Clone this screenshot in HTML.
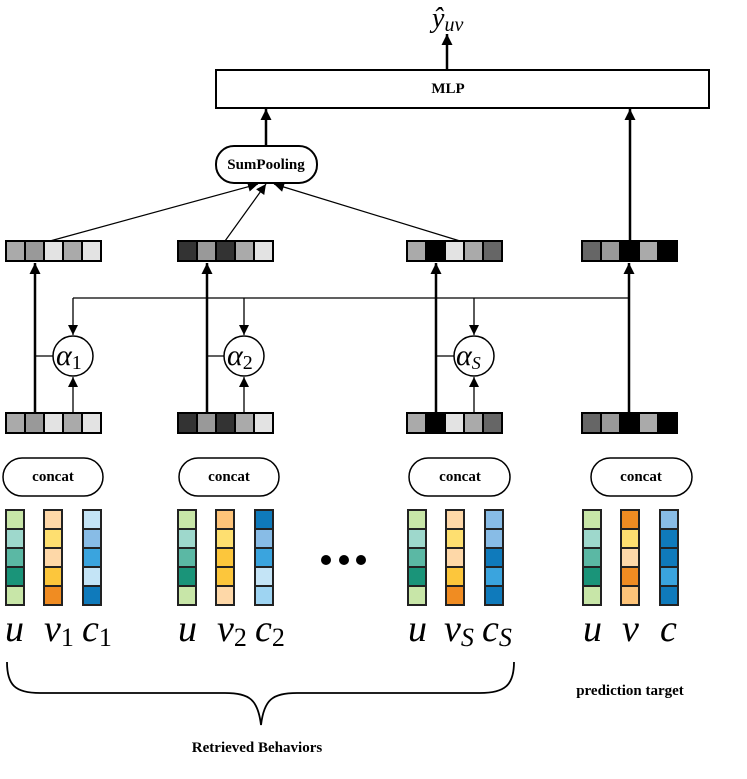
<!DOCTYPE html>
<html><head><meta charset="utf-8"><style>
body{margin:0;background:#fff}
svg{display:block}
.b{font-family:"Liberation Serif",serif;font-weight:bold}
.i{font-family:"Liberation Serif",serif;font-style:italic}
</style></head><body>
<svg width="747" height="779" viewBox="0 0 747 779" xmlns="http://www.w3.org/2000/svg">
<defs>
<marker id="a" viewBox="0 0 10 10" refX="10" refY="5" markerWidth="12" markerHeight="10" markerUnits="userSpaceOnUse" orient="auto"><path d="M0,0L10,5L0,10z" fill="#000"/></marker>
<marker id="as" viewBox="0 0 10 10" refX="10" refY="5" markerWidth="14" markerHeight="11" markerUnits="userSpaceOnUse" orient="auto"><path d="M0,0L10,5L0,10z" fill="#000"/></marker>
</defs>
<g stroke="#000" fill="none">
<line x1="447" y1="70" x2="447" y2="34" stroke-width="2.5" marker-end="url(#as)"/>
<rect x="216" y="70" width="493" height="38" stroke-width="2" fill="#fff"/>
<line x1="266" y1="146" x2="266" y2="109" stroke-width="2.5" marker-end="url(#as)"/>
<rect x="216" y="146" width="101" height="37" rx="18" stroke-width="2" fill="#fff"/>
<line x1="630" y1="241" x2="630" y2="109" stroke-width="2.5" marker-end="url(#as)"/>
<line x1="50" y1="241" x2="258" y2="184" stroke-width="1.2" marker-end="url(#a)"/>
<line x1="225" y1="241" x2="266" y2="184" stroke-width="1.2" marker-end="url(#a)"/>
<line x1="460" y1="241" x2="274" y2="184" stroke-width="1.2" marker-end="url(#a)"/>
<path d="M73,298H630" stroke-width="1.3"/>
<line x1="73" y1="298" x2="73" y2="335" stroke-width="1.3" marker-end="url(#a)"/>
<line x1="244" y1="298" x2="244" y2="335" stroke-width="1.3" marker-end="url(#a)"/>
<line x1="474" y1="298" x2="474" y2="335" stroke-width="1.3" marker-end="url(#a)"/>
<line x1="35" y1="413" x2="35" y2="263" stroke-width="2.5" marker-end="url(#as)"/>
<line x1="207" y1="413" x2="207" y2="263" stroke-width="2.5" marker-end="url(#as)"/>
<line x1="436" y1="413" x2="436" y2="263" stroke-width="2.5" marker-end="url(#as)"/>
<line x1="629" y1="413" x2="629" y2="263" stroke-width="2.5" marker-end="url(#as)"/>
<line x1="73" y1="413" x2="73" y2="377" stroke-width="1.3" marker-end="url(#a)"/>
<line x1="244" y1="413" x2="244" y2="377" stroke-width="1.3" marker-end="url(#a)"/>
<line x1="474" y1="413" x2="474" y2="377" stroke-width="1.3" marker-end="url(#a)"/>
<line x1="35" y1="356" x2="53" y2="356" stroke-width="1.3"/>
<line x1="207" y1="356" x2="224" y2="356" stroke-width="1.3"/>
<line x1="436" y1="356" x2="454" y2="356" stroke-width="1.3"/>
<circle cx="73" cy="356" r="20" stroke-width="1.5" fill="#fff"/>
<circle cx="244" cy="356" r="20" stroke-width="1.5" fill="#fff"/>
<circle cx="474" cy="356" r="20" stroke-width="1.5" fill="#fff"/>
<rect x="3" y="458" width="100" height="38" rx="19" stroke-width="1.5" fill="#fff"/>
<rect x="179" y="458" width="100" height="38" rx="19" stroke-width="1.5" fill="#fff"/>
<rect x="409" y="458" width="101" height="38" rx="19" stroke-width="1.5" fill="#fff"/>
<rect x="591" y="458" width="101" height="38" rx="19" stroke-width="1.5" fill="#fff"/>
<path d="M7,662 C7,685 15,693 40,693 H225 C250,693 258,700 261,725 C264,700 272,693 297,693 H480 C505,693 514,685 514,662" stroke-width="1.8"/>
</g>
<g stroke="#000" stroke-width="2">
<g transform="translate(6,241)">
<rect x="0" width="19" height="20" fill="#aaa"/><rect x="19" width="19" height="20" fill="#999"/><rect x="38" width="19" height="20" fill="#e3e3e3"/><rect x="57" width="19" height="20" fill="#aaa"/><rect x="76" width="19" height="20" fill="#e3e3e3"/></g>
<g transform="translate(178,241)">
<rect x="0" width="19" height="20" fill="#333"/><rect x="19" width="19" height="20" fill="#999"/><rect x="38" width="19" height="20" fill="#333"/><rect x="57" width="19" height="20" fill="#aaa"/><rect x="76" width="19" height="20" fill="#e3e3e3"/></g>
<g transform="translate(407,241)">
<rect x="0" width="19" height="20" fill="#aaa"/><rect x="19" width="19" height="20" fill="#000"/><rect x="38" width="19" height="20" fill="#e3e3e3"/><rect x="57" width="19" height="20" fill="#aaa"/><rect x="76" width="19" height="20" fill="#666"/></g>
<g transform="translate(582,241)">
<rect x="0" width="19" height="20" fill="#666"/><rect x="19" width="19" height="20" fill="#999"/><rect x="38" width="19" height="20" fill="#000"/><rect x="57" width="19" height="20" fill="#aaa"/><rect x="76" width="19" height="20" fill="#000"/></g>
<g transform="translate(6,413)">
<rect x="0" width="19" height="20" fill="#aaa"/><rect x="19" width="19" height="20" fill="#999"/><rect x="38" width="19" height="20" fill="#e3e3e3"/><rect x="57" width="19" height="20" fill="#aaa"/><rect x="76" width="19" height="20" fill="#e3e3e3"/></g>
<g transform="translate(178,413)">
<rect x="0" width="19" height="20" fill="#333"/><rect x="19" width="19" height="20" fill="#999"/><rect x="38" width="19" height="20" fill="#333"/><rect x="57" width="19" height="20" fill="#aaa"/><rect x="76" width="19" height="20" fill="#e3e3e3"/></g>
<g transform="translate(407,413)">
<rect x="0" width="19" height="20" fill="#aaa"/><rect x="19" width="19" height="20" fill="#000"/><rect x="38" width="19" height="20" fill="#e3e3e3"/><rect x="57" width="19" height="20" fill="#aaa"/><rect x="76" width="19" height="20" fill="#666"/></g>
<g transform="translate(582,413)">
<rect x="0" width="19" height="20" fill="#666"/><rect x="19" width="19" height="20" fill="#999"/><rect x="38" width="19" height="20" fill="#000"/><rect x="57" width="19" height="20" fill="#aaa"/><rect x="76" width="19" height="20" fill="#000"/></g>
</g>
<g stroke="#222" stroke-width="2">
<g transform="translate(6,510)"><rect y="0" width="18" height="19" fill="#c8e6a8"/><rect y="19" width="18" height="19" fill="#9ed8cc"/><rect y="38" width="18" height="19" fill="#5bb8a4"/><rect y="57" width="18" height="19" fill="#1a9479"/><rect y="76" width="18" height="19" fill="#c8e6a8"/></g>
<g transform="translate(44,510)"><rect y="0" width="18" height="19" fill="#fed8a8"/><rect y="19" width="18" height="19" fill="#fedf70"/><rect y="38" width="18" height="19" fill="#fed8a8"/><rect y="57" width="18" height="19" fill="#fcc63c"/><rect y="76" width="18" height="19" fill="#f08c22"/></g>
<g transform="translate(83,510)"><rect y="0" width="18" height="19" fill="#c4e4f6"/><rect y="19" width="18" height="19" fill="#88bce6"/><rect y="38" width="18" height="19" fill="#3aa4de"/><rect y="57" width="18" height="19" fill="#c4e4f6"/><rect y="76" width="18" height="19" fill="#0f7abb"/></g>
<g transform="translate(178,510)"><rect y="0" width="18" height="19" fill="#c8e6a8"/><rect y="19" width="18" height="19" fill="#9ed8cc"/><rect y="38" width="18" height="19" fill="#5bb8a4"/><rect y="57" width="18" height="19" fill="#1a9479"/><rect y="76" width="18" height="19" fill="#c8e6a8"/></g>
<g transform="translate(216,510)"><rect y="0" width="18" height="19" fill="#fec479"/><rect y="19" width="18" height="19" fill="#fedf70"/><rect y="38" width="18" height="19" fill="#fcc63c"/><rect y="57" width="18" height="19" fill="#fcc63c"/><rect y="76" width="18" height="19" fill="#fed8a8"/></g>
<g transform="translate(255,510)"><rect y="0" width="18" height="19" fill="#0f7abb"/><rect y="19" width="18" height="19" fill="#88bce6"/><rect y="38" width="18" height="19" fill="#3aa4de"/><rect y="57" width="18" height="19" fill="#c4e4f6"/><rect y="76" width="18" height="19" fill="#9ed4f2"/></g>
<g transform="translate(408,510)"><rect y="0" width="18" height="19" fill="#c8e6a8"/><rect y="19" width="18" height="19" fill="#9ed8cc"/><rect y="38" width="18" height="19" fill="#5bb8a4"/><rect y="57" width="18" height="19" fill="#1a9479"/><rect y="76" width="18" height="19" fill="#c8e6a8"/></g>
<g transform="translate(446,510)"><rect y="0" width="18" height="19" fill="#fed8a8"/><rect y="19" width="18" height="19" fill="#fedf70"/><rect y="38" width="18" height="19" fill="#fed8a8"/><rect y="57" width="18" height="19" fill="#fcc63c"/><rect y="76" width="18" height="19" fill="#f08c22"/></g>
<g transform="translate(485,510)"><rect y="0" width="18" height="19" fill="#88bce6"/><rect y="19" width="18" height="19" fill="#88bce6"/><rect y="38" width="18" height="19" fill="#0f7abb"/><rect y="57" width="18" height="19" fill="#3aa4de"/><rect y="76" width="18" height="19" fill="#0f7abb"/></g>
<g transform="translate(583,510)"><rect y="0" width="18" height="19" fill="#c8e6a8"/><rect y="19" width="18" height="19" fill="#9ed8cc"/><rect y="38" width="18" height="19" fill="#5bb8a4"/><rect y="57" width="18" height="19" fill="#1a9479"/><rect y="76" width="18" height="19" fill="#c8e6a8"/></g>
<g transform="translate(621,510)"><rect y="0" width="18" height="19" fill="#f08c22"/><rect y="19" width="18" height="19" fill="#fedf70"/><rect y="38" width="18" height="19" fill="#fed8a8"/><rect y="57" width="18" height="19" fill="#f08c22"/><rect y="76" width="18" height="19" fill="#fec479"/></g>
<g transform="translate(660,510)"><rect y="0" width="18" height="19" fill="#88bce6"/><rect y="19" width="18" height="19" fill="#0f7abb"/><rect y="38" width="18" height="19" fill="#0f7abb"/><rect y="57" width="18" height="19" fill="#3aa4de"/><rect y="76" width="18" height="19" fill="#0f7abb"/></g>
</g>
<circle cx="326" cy="560" r="5"/><circle cx="344" cy="560" r="5"/><circle cx="361" cy="560" r="5"/>
<g class="b" font-size="15" text-anchor="middle">
<text x="448" y="93">MLP</text>
<text x="266" y="169">SumPooling</text>
<text x="53" y="481">concat</text>
<text x="229" y="481">concat</text>
<text x="460" y="481">concat</text>
<text x="641" y="481">concat</text>
<text x="257" y="752">Retrieved Behaviors</text>
<text x="630" y="695">prediction target</text>
</g>
<g class="i">
<text x="432" y="27" font-size="28">ŷ<tspan font-size="20" dy="4">uv</tspan></text>
<text x="56" y="365" font-size="30">α<tspan font-size="20" font-style="normal" dy="4">1</tspan></text>
<text x="227" y="365" font-size="30">α<tspan font-size="20" font-style="normal" dy="4">2</tspan></text>
<text x="456" y="365" font-size="30">α<tspan font-size="18" dy="4">S</tspan></text>
<g font-size="38">
<text x="5" y="641">u</text>
<text x="44" y="641">v<tspan font-size="26" font-style="normal" dy="5">1</tspan></text>
<text x="82" y="641">c<tspan font-size="26" font-style="normal" dy="5">1</tspan></text>
<text x="178" y="641">u</text>
<text x="217" y="641">v<tspan font-size="26" font-style="normal" dy="5">2</tspan></text>
<text x="255" y="641">c<tspan font-size="26" font-style="normal" dy="5">2</tspan></text>
<text x="408" y="641">u</text>
<text x="444" y="641">v<tspan font-size="26" dy="5">S</tspan></text>
<text x="482" y="641">c<tspan font-size="26" dy="5">S</tspan></text>
<text x="583" y="641">u</text>
<text x="622" y="641">v</text>
<text x="660" y="641">c</text>
</g>
</g>
</svg>
</body></html>
